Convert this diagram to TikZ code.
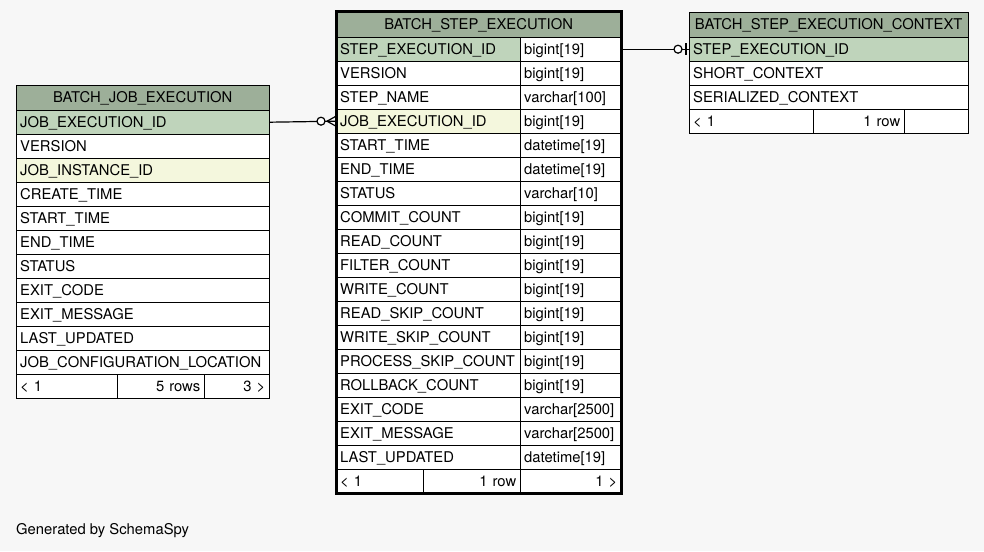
\documentclass[tikz,border=0pt]{standalone}
\usepackage{fontspec}
\setmainfont{TeX Gyre Heros}
\usetikzlibrary{calc}
\definecolor{bgc}{HTML}{F7F7F7}
\definecolor{hdrc}{HTML}{9DAF99}
\definecolor{pkc}{HTML}{BFD4BB}
\definecolor{fkc}{HTML}{F4F7DD}
\begin{document}
\begin{tikzpicture}[
          x = 1pt, y = -1pt,
          font = \fontsize{14.8}{17}\selectfont,
          cell/.style = {draw, rectangle, anchor=north west, fill=white, inner xsep=4pt,
                         inner ysep=0pt, minimum height=24pt, text height=10.5pt,
                         text depth=0pt, align=left},
          hdr/.style = {cell, fill=hdrc, minimum height=25pt, align=center},
          rgt/.style = {cell, align=right},
          link/.style = {draw, line width=1.2pt},
        ]
        \path[fill=bgc, use as bounding box] (0,0) rectangle (984,551);
        % BATCH_JOB_EXECUTION
        \node[hdr, text width=245pt] (job) at (16,85) {BATCH\_JOB\_EXECUTION};
        \foreach \t/\f [count=\i] in {JOB\_EXECUTION\_ID/pkc, VERSION/white,
            JOB\_INSTANCE\_ID/fkc, CREATE\_TIME/white, START\_TIME/white, END\_TIME/white,
            STATUS/white, EXIT\_CODE/white, EXIT\_MESSAGE/white, LAST\_UPDATED/white,
            JOB\_CONFIGURATION\_LOCATION/white}
          \node[cell, fill=\f, text width=245pt] (job\i) at (16,86+24*\i) {\t};
        \node[cell, text width=93pt] (jobF1) at (16,374) {\textless{} 1};
        \node[rgt, text width=79pt] (jobF2) at (117,374) {5 rows};
        \node[rgt, text width=57pt] (jobF3) at (204,374) {3 \textgreater};
        % BATCH_STEP_EXECUTION
        \node[hdr, text width=277pt] (step) at (336,12) {BATCH\_STEP\_EXECUTION};
        \foreach \t/\ty/\f [count=\i] in {STEP\_EXECUTION\_ID/bigint[19]/pkc,
            VERSION/bigint[19]/white, STEP\_NAME/varchar[100]/white,
            JOB\_EXECUTION\_ID/bigint[19]/fkc, START\_TIME/datetime[19]/white,
            END\_TIME/datetime[19]/white, STATUS/varchar[10]/white,
            COMMIT\_COUNT/bigint[19]/white, READ\_COUNT/bigint[19]/white,
            FILTER\_COUNT/bigint[19]/white, WRITE\_COUNT/bigint[19]/white,
            READ\_SKIP\_COUNT/bigint[19]/white, WRITE\_SKIP\_COUNT/bigint[19]/white,
            PROCESS\_SKIP\_COUNT/bigint[19]/white, ROLLBACK\_COUNT/bigint[19]/white,
            EXIT\_CODE/varchar[2500]/white, EXIT\_MESSAGE/varchar[2500]/white,
            LAST\_UPDATED/datetime[19]/white}
          {
          \node[cell, fill=\f, text width=176pt] (step\i) at (336,13+24*\i) {\t};
          \node[cell, text width=93pt] (stepT\i) at (520,13+24*\i) {\ty};
          }
        \node[cell, text width=79pt] (stepF1) at (336,469) {\textless{} 1};
        \node[rgt, text width=89pt] (stepF2) at (423,469) {1 row};
        \node[rgt, text width=93pt] (stepF3) at (520,469) {1 \textgreater};
        \draw[line width=3pt] (step.north west) rectangle (stepF3.south east);
        % BATCH_STEP_EXECUTION_CONTEXT
        \node[hdr, text width=271pt] (ctx) at (689,12) {BATCH\_STEP\_EXECUTION\_CONTEXT};
        \foreach \t/\f [count=\i] in {STEP\_EXECUTION\_ID/pkc, SHORT\_CONTEXT/white,
            SERIALIZED\_CONTEXT/white}
          \node[cell, fill=\f, text width=271pt] (ctx\i) at (689,13+24*\i) {\t};
        \node[cell, text width=116pt] (ctxF1) at (689,109) {\textless{} 1};
        \node[rgt, text width=83pt] (ctxF2) at (813,109) {1 row};
        \node[rgt, text width=56pt] (ctxF3) at (904,109) {};
        % relationships
        \draw[link] (job1.east) -- (step4.west);
        \draw[link, fill=white] ($(step4.west)+(-15,0)$) circle (4pt);
        \draw[link] ($(step4.west)+(-9,0)$) -- ($(step4.west)+(0,-5)$)
                    ($(step4.west)+(-9,0)$) -- ($(step4.west)+(0,5)$);
        \draw[link] (stepT1.east) -- (ctx1.west);
        \draw[link, fill=white] ($(ctx1.west)+(-11,0)$) circle (4pt);
        \draw[line width=2.5pt] ($(ctx1.west)+(-3,-6)$) -- ($(ctx1.west)+(-3,6)$);
        \node[anchor=west, inner xsep=0pt, font=\fontsize{14.8}{17}\selectfont] (gen)
          at (16,531) {Generated by SchemaSpy};
      \end{tikzpicture}
\end{document}
